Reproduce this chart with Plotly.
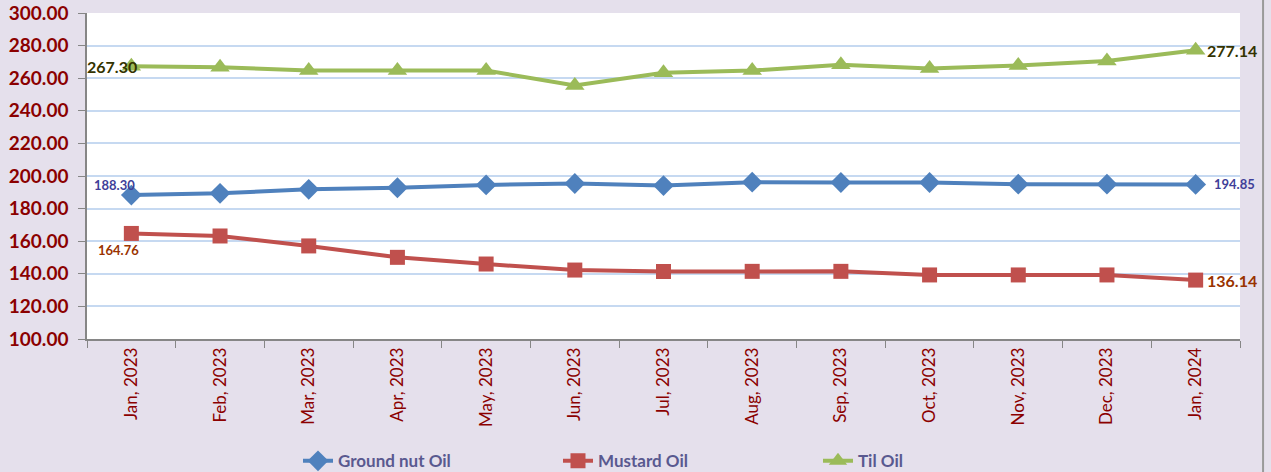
import plotly.graph_objects as go

months = ['Jan, 2023', 'Feb, 2023', 'Mar, 2023', 'Apr, 2023', 'May, 2023', 'Jun, 2023',
          'Jul, 2023', 'Aug, 2023', 'Sep, 2023', 'Oct, 2023', 'Nov, 2023', 'Dec, 2023', 'Jan, 2024']
groundnut = [188.30, 189.4, 191.8, 192.8, 194.5, 195.4, 194.1, 196.2, 196.0, 196.0, 195.0, 195.0, 194.85]
mustard = [164.76, 163.2, 157.1, 150.1, 146.0, 142.3, 141.4, 141.5, 141.5, 139.3, 139.3, 139.3, 136.14]
til = [267.30, 266.7, 264.7, 264.7, 264.7, 255.5, 263.3, 264.7, 268.2, 266.0, 267.8, 270.6, 277.14]

font = 'Lato'
fig = go.Figure()
fig.add_trace(go.Scatter(x=months, y=groundnut, name='Ground nut Oil', mode='lines+markers',
                         line=dict(color='#4F81BD', width=4),
                         marker=dict(symbol='diamond', size=16, color='#4F81BD')))
fig.add_trace(go.Scatter(x=months, y=mustard, name='Mustard Oil', mode='lines+markers',
                         line=dict(color='#C0504D', width=4),
                         marker=dict(symbol='square', size=15, color='#C0504D')))
fig.add_trace(go.Scatter(x=months, y=til, name='Til Oil', mode='lines+markers',
                         line=dict(color='#9BBB59', width=4),
                         marker=dict(symbol='triangle-up', size=17, color='#9BBB59')))

# data labels on first and last points
labels = [
    (months[0], til[0], '#333300', 16, 'center', -19, 0),
    (months[-1], til[-1], '#333300', 16, 'left', 9, 0),
    (months[0], groundnut[0], '#3F3F99', 13, 'center', -17, 10),
    (months[-1], groundnut[-1], '#3F3F99', 13, 'left', 16, 0),
    (months[0], mustard[0], '#993300', 13, 'center', -13, -17),
    (months[-1], mustard[-1], '#993300', 16, 'left', 9, 0),
]
for x, y, c, s, anc, dx, dy in labels:
    fig.add_annotation(x=x, y=y, text='<b>%.2f</b>' % y, showarrow=False,
                       font=dict(family=font, size=s, color=c),
                       xanchor=anc, yanchor='middle', xshift=dx, yshift=dy)

# outer frame line on the right edge
fig.add_shape(type='line', xref='paper', yref='paper', x0=1.02, x1=1.02, y0=-0.41, y1=1.05,
              line=dict(color='#9A9A9A', width=2), layer='above')

fig.update_layout(
    width=1271, height=472,
    margin=dict(l=87, r=31, t=13, b=133, autoexpand=False),
    paper_bgcolor='#E5E0EC', plot_bgcolor='white',
    font=dict(family=font),
    showlegend=True,
    legend=dict(orientation='h', x=0.183, xanchor='left', y=-0.375, yanchor='middle',
                font=dict(family=font, size=17, color='#595990', weight='bold'),
                entrywidth=215, bgcolor='rgba(0,0,0,0)'),
    xaxis=dict(type='category', range=[-0.5, 12.5], tickson='boundaries', ticks='outside',
               ticklen=7, tickcolor='#868686', showline=True, linecolor='#868686', linewidth=1.5,
               showgrid=False, tickangle=-90, automargin=False,
               tickfont=dict(family=font, size=17, color='#8B0000')),
    yaxis=dict(range=[100, 300], dtick=20, tickformat='.2f', ticks='outside', ticklen=7,
               tickcolor='#868686', showline=True, linecolor='#868686', linewidth=1.5,
               gridcolor='#C6D9F1', gridwidth=1.5, zeroline=False, automargin=False,
               ticklabelstandoff=6,
               tickfont=dict(family=font, size=19, color='#8B0000', weight='bold')),
)

fig.write_html('out.html', config={'displayModeBar': False},
               post_script="document.body.style.margin='0';")
